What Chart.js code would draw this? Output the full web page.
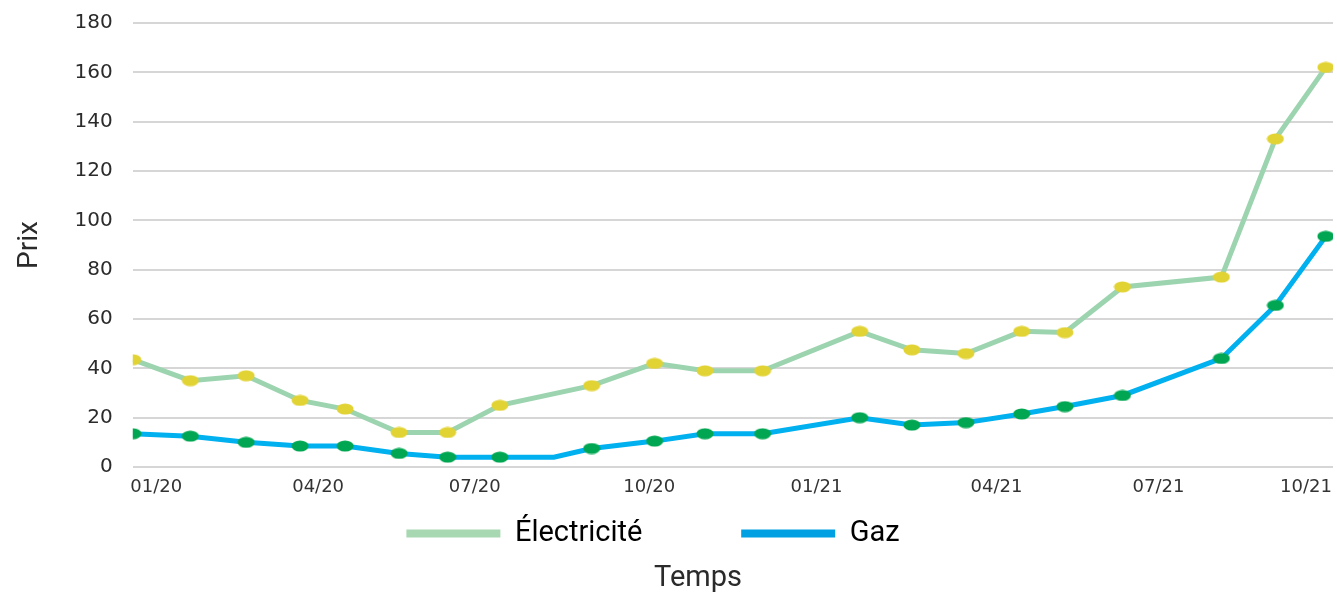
<!DOCTYPE html>
<html lang="fr">
<head>
    <meta charset="UTF-8">
    <title>Prix Électricité / Gaz</title>
    <script src="https://cdn.jsdelivr.net/npm/chart.js"></script>
    <style>
        body { margin: 0; background: #fff; }
        .chart-container { width: 1337px; height: 593px; position: relative; }
    </style>
</head>
<body>
    <div class="chart-container">
        <canvas id="prixChart"></canvas>
    </div>

    <script>
        const dates = ['2019-12-19', '2020-01-20', '2020-02-20', '2020-03-21', '2020-04-15', '2020-05-15',
            '2020-06-11', '2020-07-10', '2020-08-09', '2020-08-30', '2020-10-04', '2020-11-01',
            '2020-12-03', '2021-01-26', '2021-02-24', '2021-03-26', '2021-04-26', '2021-05-20',
            '2021-06-21', '2021-08-15', '2021-09-14', '2021-10-12'];
        const electricite = [43.5, 35, 37, 27, 23.5, 14, 14, 25, null, 33, 42, 39,
            39, 55, 47.5, 46, 55, 54.5, 73, 77, 133, 162];
        const gaz = [13.5, 12.5, 10, 8.5, 8.5, 5.5, 4, 4, 4, 7.5, 10.5, 13.5,
            13.5, 20, 17, 18, 21.5, 24.5, 29, 44, 65.5, 93.5];
        // emplacements des étiquettes tels qu'ils apparaissent sur l'axe d'origine
        const tickDates = ['2020-01-01', '2020-03-31', '2020-06-26', '2020-10-01',
            '2021-01-02', '2021-04-12', '2021-07-11', '2021-10-01'];
        const tickLabels = ['01/20', '04/20', '07/20', '10/20', '01/21', '04/21', '07/21', '10/21'];

        const origin = Date.UTC(2020, 0, 1);
        function toDay(s) {
            const p = s.split('-');
            return Math.round((Date.UTC(+p[0], +p[1] - 1, +p[2]) - origin) / 86400000);
        }
        const days = dates.map(toDay);
        const tickDays = tickDates.map(toDay);

        // petits marqueurs ovales
        function marker(color) {
            const c = document.createElement('canvas');
            c.width = 18; c.height = 12;
            const g = c.getContext('2d');
            g.fillStyle = color;
            g.beginPath();
            g.ellipse(9, 6, 8.5, 5.5, 0, 0, Math.PI * 2);
            g.fill();
            return c;
        }

        // légende un peu à gauche, titre "Temps" un peu à droite
        const boxShift = {
            id: 'boxShift',
            afterLayout(chart) {
                chart.legend.left -= 20;
                chart.legend.right -= 20;
                chart.titleBlock.left += 25;
                chart.titleBlock.right += 25;
            }
        };

        Chart.defaults.font.family = "Roboto, 'Noto Sans', sans-serif";
        Chart.defaults.color = '#2b2b2b';

        const ctx = document.getElementById('prixChart').getContext('2d');
        new Chart(ctx, {
            type: 'line',
            data: {
                datasets: [
                    {
                        label: 'Électricité',
                        data: days.map((d, i) => ({ x: d, y: electricite[i] })),
                        borderColor: '#9dd4b0',
                        legendColor: '#a8d8b2',
                        borderWidth: 5,
                        pointStyle: marker('#e2d335'),
                        pointRadius: 6,
                        pointHoverRadius: 6,
                        spanGaps: true,
                        tension: 0
                    },
                    {
                        label: 'Gaz',
                        data: days.map((d, i) => ({ x: d, y: gaz[i] })),
                        borderColor: '#00b0ef',
                        legendColor: '#00a0e3',
                        borderWidth: 5,
                        pointStyle: marker('#00a651'),
                        pointRadius: gaz.map((v, i) => i === 8 ? 0 : 6),
                        pointHoverRadius: 6,
                        tension: 0
                    }
                ]
            },
            plugins: [boxShift],
            options: {
                responsive: true,
                maintainAspectRatio: false,
                animation: false,
                layout: { autoPadding: false, padding: { top: 23, left: 13, right: 4, bottom: 0 } },
                scales: {
                    x: {
                        type: 'linear',
                        min: days[0],
                        max: days[days.length - 1] + 4,
                        grid: { display: false },
                        border: { display: false },
                        afterBuildTicks: (scale) => {
                            scale.ticks = tickDays.map(v => ({ value: v }));
                        },
                        afterFit: (scale) => {
                            scale.height = 42;
                            scale.paddingRight = 0;
                            scale.paddingLeft = 0;
                        },
                        ticks: {
                            autoSkip: false,
                            maxRotation: 0,
                            padding: 2,
                            color: '#333',
                            font: { family: "'DejaVu Sans'", size: 18 },
                            callback: (value, index) => tickLabels[index]
                        }
                    },
                    y: {
                        min: 0,
                        max: 180,
                        grid: { color: '#d6d6d6', lineWidth: 2, drawTicks: false },
                        border: { display: false },
                        afterFit: (scale) => {
                            scale.paddingTop = 0;
                            scale.paddingBottom = 0;
                        },
                        ticks: {
                            stepSize: 20,
                            padding: 20,
                            font: { family: "'DejaVu Sans'", size: 20 }
                        },
                        title: {
                            display: true,
                            text: 'Prix',
                            font: { size: 28 },
                            padding: { top: 0, bottom: 8 }
                        }
                    }
                },
                plugins: {
                    legend: {
                        position: 'bottom',
                        labels: {
                            boxWidth: 94,
                            boxHeight: 8,
                            padding: 10,
                            font: { size: 29 },
                            generateLabels: (chart) => chart.data.datasets.map((ds, i) => ({
                                // espaces pour l'écart entre les deux entrées
                                text: i === 0 ? ds.label + '\u2003\u2003\u2003' : ds.label,
                                fillStyle: ds.legendColor,
                                strokeStyle: ds.legendColor,
                                lineWidth: 0,
                                datasetIndex: i
                            }))
                        }
                    },
                    title: {
                        display: true,
                        position: 'bottom',
                        text: 'Temps',
                        font: { size: 29, weight: 'normal', lineHeight: 1 },
                        padding: { top: 6, bottom: 0 }
                    },
                    tooltip: { enabled: false }
                }
            }
        });
    </script>
</body>
</html>
